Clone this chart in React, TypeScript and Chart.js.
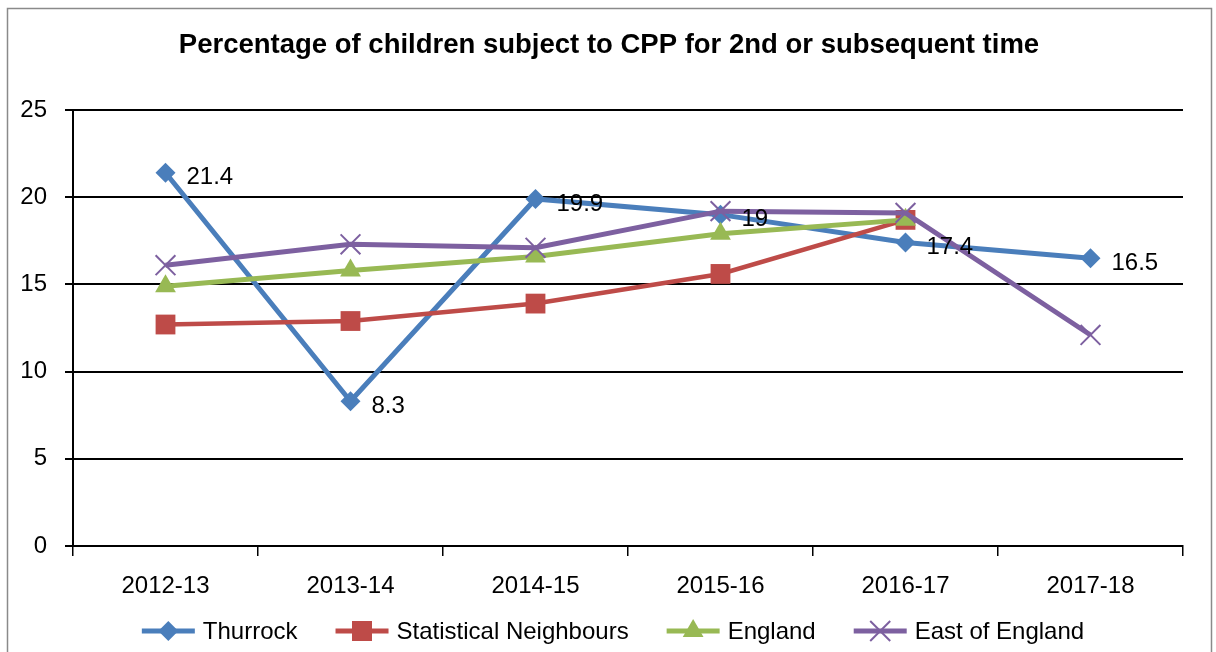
import React, { useEffect, useRef } from 'react';
import { Chart, registerables } from 'chart.js';

Chart.register(...registerables);

const categories = ['2012-13', '2013-14', '2014-15', '2015-16', '2016-17', '2017-18'];
const thurrock = [21.4, 8.3, 19.9, 19, 17.4, 16.5];
const statNeighbours = [12.7, 12.9, 13.9, 15.6, 18.7, null];
const england = [14.9, 15.8, 16.6, 17.9, 18.7, null];
const eastOfEngland = [16.1, 17.3, 17.1, 19.2, 19.1, 12.1];
const yTicks = [0, 5, 10, 15, 20, 25];
const seriesNames = ['Thurrock', 'Statistical Neighbours', 'England', 'East of England'];
const titleText = 'Percentage of children subject to CPP for 2nd or subsequent time';

const COLORS = ['#4A7EBB', '#BE4B48', '#98B954', '#7D60A0'];
const MARKERS = ['diamond', 'square', 'triangle', 'cross'];
const FONT = "'Liberation Sans', Arial, sans-serif";

function drawMarker(ctx: CanvasRenderingContext2D, kind: string, x: number, y: number, color: string) {
  ctx.save();
  ctx.fillStyle = color;
  ctx.strokeStyle = color;
  ctx.beginPath();
  if (kind === 'diamond') {
    const r = 10;
    ctx.moveTo(x, y - r);
    ctx.lineTo(x + r, y);
    ctx.lineTo(x, y + r);
    ctx.lineTo(x - r, y);
    ctx.closePath();
    ctx.fill();
  } else if (kind === 'square') {
    const s = 10;
    ctx.rect(x - s, y - s, 2 * s, 2 * s);
    ctx.fill();
  } else if (kind === 'triangle') {
    const r = 12;
    ctx.moveTo(x, y - r);
    ctx.lineTo(x + r * Math.sin((2 * Math.PI) / 3), y + r / 2);
    ctx.lineTo(x - r * Math.sin((2 * Math.PI) / 3), y + r / 2);
    ctx.closePath();
    ctx.fill();
  } else {
    const r = 10;
    ctx.lineWidth = 2;
    ctx.moveTo(x - r, y - r);
    ctx.lineTo(x + r, y + r);
    ctx.moveTo(x + r, y - r);
    ctx.lineTo(x - r, y + r);
    ctx.stroke();
  }
  ctx.restore();
}

const decorPlugin = {
  id: 'decor',
  afterDatasetsDraw(chart: any) {
    const ctx: CanvasRenderingContext2D = chart.ctx;
    // data labels for Thurrock
    const meta = chart.getDatasetMeta(0);
    ctx.save();
    ctx.font = `24px ${FONT}`;
    ctx.fillStyle = '#000';
    ctx.textAlign = 'left';
    ctx.textBaseline = 'middle';
    meta.data.forEach((pt: any, i: number) => {
      const v = thurrock[i];
      if (v == null) return;
      ctx.fillText(String(v), pt.x + 21, pt.y + 5);
    });
    ctx.restore();
  },
  afterDraw(chart: any) {
    const ctx: CanvasRenderingContext2D = chart.ctx;
    ctx.save();
    // outer frame
    ctx.strokeStyle = '#8A8A8A';
    ctx.lineWidth = 1.5;
    ctx.strokeRect(7.5, 8.5, 1204, 700);
    // title
    ctx.font = `bold 27.5px ${FONT}`;
    ctx.fillStyle = '#000';
    ctx.textAlign = 'center';
    ctx.textBaseline = 'middle';
    ctx.fillText(titleText, 609, 45);
    // legend
    ctx.font = `24px ${FONT}`;
    const lineLen = 53;
    const textGap = 8;
    const itemGap = 38;
    const widths = seriesNames.map((n) => ctx.measureText(n).width);
    const total = widths.reduce((a, w) => a + lineLen + textGap + w, 0) + itemGap * (seriesNames.length - 1);
    let x = 613 - total / 2;
    const ly = 631;
    seriesNames.forEach((name, i) => {
      ctx.strokeStyle = COLORS[i];
      ctx.lineWidth = 5;
      ctx.beginPath();
      ctx.moveTo(x, ly);
      ctx.lineTo(x + lineLen, ly);
      ctx.stroke();
      drawMarker(ctx, MARKERS[i], x + lineLen / 2, ly, COLORS[i]);
      ctx.fillStyle = '#000';
      ctx.textAlign = 'left';
      ctx.textBaseline = 'middle';
      ctx.fillText(name, x + lineLen + textGap, ly + 1);
      x += lineLen + textGap + widths[i] + itemGap;
    });
    ctx.restore();
  },
};

export default function App() {
  const ref = useRef<HTMLCanvasElement | null>(null);

  useEffect(() => {
    if (!ref.current) return;
    const chart = new Chart(ref.current, {
      type: 'line',
      data: {
        labels: categories,
        datasets: [
          {
            label: seriesNames[0],
            data: thurrock,
            borderColor: COLORS[0],
            backgroundColor: COLORS[0],
            borderWidth: 5,
            pointStyle: 'rectRot',
            pointRadius: 10,
            pointBorderWidth: 0,
            pointBackgroundColor: COLORS[0],
            order: 4,
          },
          {
            label: seriesNames[1],
            data: statNeighbours,
            borderColor: COLORS[1],
            backgroundColor: COLORS[1],
            borderWidth: 4.5,
            pointStyle: 'rect',
            pointRadius: 14,
            pointBorderWidth: 0,
            pointBackgroundColor: COLORS[1],
            order: 3,
          },
          {
            label: seriesNames[2],
            data: england,
            borderColor: COLORS[2],
            backgroundColor: COLORS[2],
            borderWidth: 5,
            pointStyle: 'triangle',
            pointRadius: 12,
            pointBorderWidth: 0,
            pointBackgroundColor: COLORS[2],
            order: 2,
          },
          {
            label: seriesNames[3],
            data: eastOfEngland,
            borderColor: COLORS[3],
            backgroundColor: COLORS[3],
            borderWidth: 5,
            pointStyle: 'crossRot',
            pointRadius: 14,
            pointBorderWidth: 2,
            pointBorderColor: COLORS[3],
            order: 1,
          },
        ],
      },
      options: {
        animation: false,
        responsive: false,
        maintainAspectRatio: false,
        layout: { padding: { left: 0, top: 110, right: 33, bottom: 46 } },
        plugins: {
          legend: { display: false },
          title: { display: false },
          tooltip: { enabled: false },
        },
        elements: { line: { tension: 0 } },
        scales: {
          x: {
            type: 'category',
            offset: true,
            grid: {
              display: true,
              drawOnChartArea: false,
              drawTicks: true,
              tickLength: 10,
              color: '#000',
              lineWidth: 1.5,
              offset: true,
            },
            border: { display: true, color: '#000', width: 2 },
            ticks: { color: '#000', font: { family: FONT, size: 24 }, padding: 16, maxRotation: 0 },
            afterFit: (s: any) => {
              s.height = 60;
            },
          },
          y: {
            min: 0,
            max: 25,
            afterBuildTicks: (s: any) => {
              s.ticks = yTicks.map((v) => ({ value: v }));
            },
            ticks: { color: '#000', font: { family: FONT, size: 24 }, padding: 18 },
            grid: { color: '#000', lineWidth: 2, tickLength: 8 },
            border: { color: '#000', width: 2 },
            afterFit: (s: any) => {
              s.width = 73;
            },
          },
        },
      },
      plugins: [decorPlugin],
    });
    return () => chart.destroy();
  }, []);

  return (
    <div style={{ position: 'absolute', left: 0, top: 0, width: 1216, height: 652, background: '#fff' }}>
      <canvas ref={ref} width={1216} height={652} style={{ display: 'block', width: 1216, height: 652 }} />
    </div>
  );
}
